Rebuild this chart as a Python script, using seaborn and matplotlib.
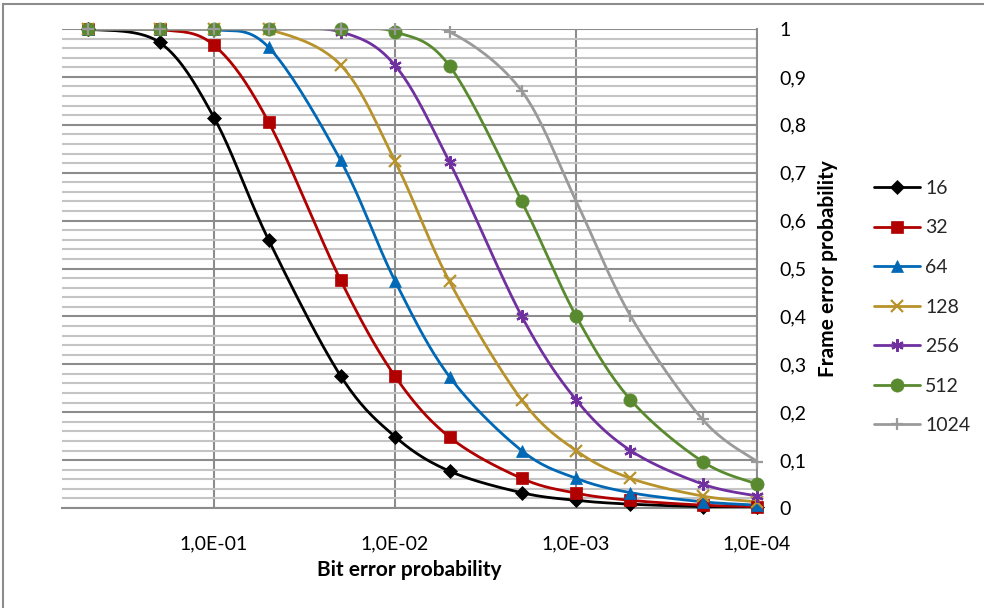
import numpy as np
import pandas as pd
import matplotlib
matplotlib.use("Agg")
import matplotlib.pyplot as plt
from matplotlib.lines import Line2D
from matplotlib.patches import Rectangle
from matplotlib.ticker import FixedLocator, MultipleLocator
import seaborn as sns

# ---------------- data ----------------
ber = [0.5, 0.2, 0.1, 0.05, 0.02, 0.01, 0.005, 0.002, 0.001, 0.0005, 0.0002, 0.0001]
fer_16 = [1.000, 0.972, 0.815, 0.560, 0.276, 0.149, 0.077, 0.032, 0.016, 0.008, 0.003, 0.002]
fer_32 = [1.000, 0.999, 0.966, 0.806, 0.476, 0.275, 0.148, 0.062, 0.031, 0.016, 0.006, 0.003]
fer_64 = [1.000, 1.000, 0.999, 0.962, 0.726, 0.474, 0.274, 0.120, 0.062, 0.032, 0.013, 0.006]
fer_128 = [1.000, 1.000, 1.000, 0.999, 0.925, 0.724, 0.473, 0.226, 0.120, 0.062, 0.025, 0.013]
fer_256 = [1.000, 1.000, 1.000, 1.000, 0.994, 0.924, 0.722, 0.401, 0.226, 0.120, 0.050, 0.025]
fer_512 = [1.000, 1.000, 1.000, 1.000, 1.000, 0.994, 0.923, 0.641, 0.401, 0.226, 0.097, 0.050]
fer_1024 = [1.000, 1.000, 1.000, 1.000, 1.000, 1.000, 0.994, 0.871, 0.641, 0.401, 0.185, 0.097]
series_names = ["16", "32", "64", "128", "256", "512", "1024"]
series_values = [fer_16, fer_32, fer_64, fer_128, fer_256, fer_512, fer_1024]
xtick_vals = [1e-1, 1e-2, 1e-3, 1e-4]
xtick_labels = ["1,0E-01", "1,0E-02", "1,0E-03", "1,0E-04"]
ytick_vals = [0, 0.1, 0.2, 0.3, 0.4, 0.5, 0.6, 0.7, 0.8, 0.9, 1.0]
ytick_labels = ["0", "0,1", "0,2", "0,3", "0,4", "0,5", "0,6", "0,7", "0,8", "0,9", "1"]

colors = ["#000000", "#B00000", "#0068B5", "#B8922A", "#7030A0", "#5A8A2F", "#9A9A9A"]
markers = ["D", "s", "^", "x", (6, 2, 0), "o", "+"]
msizes = [7, 9, 9, 8, 9, 9.5, 9]

TICK_FS = 14
LABEL_FS = 15

sns.set_theme(style="white")
plt.rcParams["font.family"] = ["Lato", "DejaVu Sans"]

fig = plt.figure(figsize=(9.84, 6.08), dpi=100)
ax = fig.add_axes([62 / 984, 1 - 508 / 608, (757 - 62) / 984, (508 - 29) / 608])


def smooth(xs, ys, n=20):
    lx = np.log10(np.asarray(xs, float))
    y = np.asarray(ys, float)
    P = np.column_stack([lx, y])
    ext = np.vstack([P[0], P, P[-1]])
    out = []
    for i in range(1, len(ext) - 2):
        p0, p1, p2, p3 = ext[i - 1], ext[i], ext[i + 1], ext[i + 2]
        c1 = p1 + (p2 - p0) / 6.0
        c2 = p2 - (p3 - p1) / 6.0
        t = np.linspace(0, 1, n, endpoint=False)[:, None]
        seg = ((1 - t) ** 3) * p1 + 3 * ((1 - t) ** 2) * t * c1 + 3 * (1 - t) * t ** 2 * c2 + t ** 3 * p2
        out.append(seg)
    out.append(P[-1:])
    S = np.vstack(out)
    return 10 ** S[:, 0], S[:, 1]


rows = []
for name, vals in zip(series_names, series_values):
    sx, sy = smooth(ber, vals)
    rows.append(pd.DataFrame({"x": sx, "y": sy, "series": name, "i": np.arange(len(sx))}))
smooth_df = pd.concat(rows, ignore_index=True)
pts_df = pd.DataFrame({
    "x": np.tile(ber, len(series_names)),
    "y": np.concatenate(series_values),
    "series": np.repeat(series_names, len(ber)),
})

sns.lineplot(data=smooth_df, x="x", y="y", hue="series", palette=colors, hue_order=series_names,
             sort=False, estimator=None, units="series", linewidth=2.0, legend=False, ax=ax, zorder=3)


def mew(m):
    return 1.6 if m in ("x", "+") or isinstance(m, tuple) else 0.5


for name, c, m, ms in zip(series_names, colors, markers, msizes):
    d = pts_df[pts_df["series"] == name]
    ax.plot(d["x"], d["y"], linestyle="none", marker=m, color=c, markersize=ms,
            markeredgewidth=mew(m), markeredgecolor=c, clip_on=False, zorder=4)

ax.set_xscale("log")
ax.set_xlim(0.692, 1e-4)
ax.set_ylim(0, 1)

ax.set_xticks(xtick_vals)
ax.set_xticklabels(xtick_labels)
ax.xaxis.set_minor_locator(FixedLocator([]))
ax.yaxis.tick_right()
ax.set_yticks(ytick_vals)
ax.set_yticklabels(ytick_labels)
ax.yaxis.set_minor_locator(MultipleLocator(0.02))
ax.tick_params(axis="both", which="both", length=0, labelsize=TICK_FS, colors="#000000")
ax.tick_params(axis="x", pad=20)
ax.tick_params(axis="y", pad=16)
for lab in ax.get_yticklabels():
    lab.set_horizontalalignment("left")

ax.grid(False)
ax.grid(axis="y", which="minor", color="#C4C4C4", linewidth=1.5, zorder=0)
ax.grid(axis="y", which="major", color="#8C8C8C", linewidth=1.5, zorder=0)
ax.grid(axis="x", which="major", color="#8C8C8C", linewidth=1.5, zorder=0)
ax.set_axisbelow(True)
for s in ["left", "top"]:
    ax.spines[s].set_visible(False)
ax.spines["bottom"].set_color("#8C8C8C")
ax.spines["bottom"].set_linewidth(1.5)
ax.spines["right"].set_color("#8C8C8C")
ax.spines["right"].set_linewidth(1.5)

ax.set_xlabel("Bit error probability", fontsize=LABEL_FS, fontweight="bold", color="#000000")
ax.xaxis.set_label_coords(0.5, -(570 - 508) / 479)
ax.xaxis.label.set_verticalalignment("center")
ax.yaxis.set_label_position("right")
ax.set_ylabel("Frame error probability", fontsize=LABEL_FS, fontweight="bold", color="#000000")
ax.yaxis.set_label_coords((828 - 62) / 695, 0.5)
ax.yaxis.label.set_verticalalignment("center")

handles = [Line2D([0], [0], color=c, marker=m, markersize=ms, linewidth=2.0,
                  markeredgewidth=mew(m), markeredgecolor=c)
           for c, m, ms in zip(colors, markers, msizes)]
fig.legend(handles, series_names, loc="center left", bbox_to_anchor=(874 / 984, 1 - 307 / 608),
           frameon=False, fontsize=TICK_FS, handlelength=2.35, handletextpad=0.28,
           labelspacing=1.16, borderpad=0, borderaxespad=0)

fig.patches.append(Rectangle((3 / 984, -0.1), 1.2, 1 - 4 / 608 + 0.1, transform=fig.transFigure,
                             fill=False, edgecolor="#8C8C8C", linewidth=1.5))

fig.savefig("out.png", dpi=100, facecolor="white")
